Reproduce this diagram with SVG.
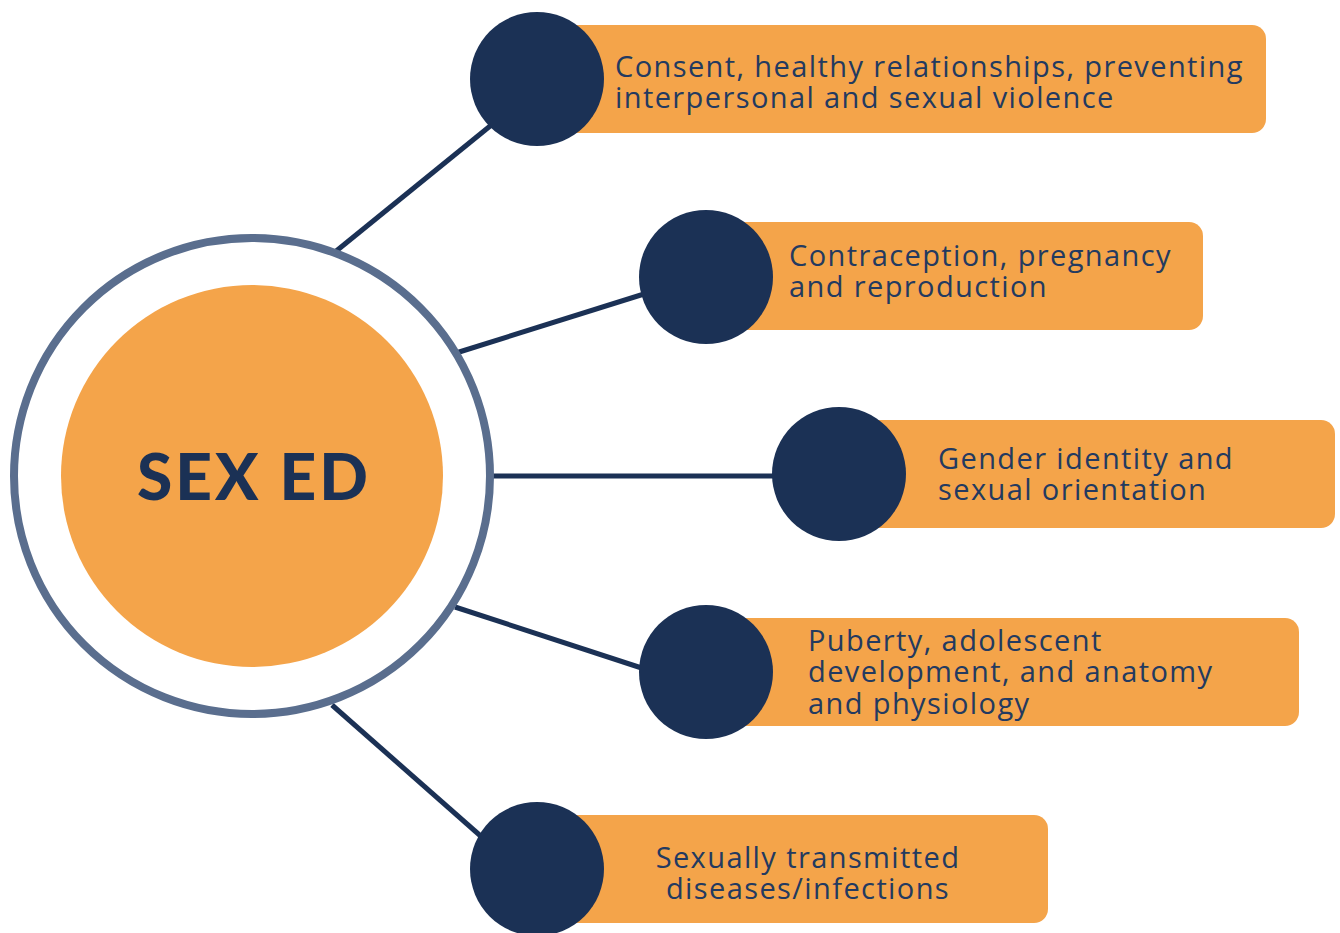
<svg xmlns="http://www.w3.org/2000/svg" width="1340" height="933" viewBox="0 0 1340 933">
<style>
.box{fill:#f4a44a}
.dot{fill:#1b3155}
.lbl{font-family:"Open Sans","Noto Sans","Liberation Sans",sans-serif;font-size:29px;letter-spacing:1.4px;fill:#233a60}
.con{stroke:#1b3155;stroke-width:5;fill:none}
</style>
<rect width="1340" height="933" fill="#ffffff"/>
<g id="connectors">
<line class="con" x1="335" y1="252" x2="500" y2="118"/>
<line class="con" x1="456" y1="353" x2="660" y2="289"/>
<line class="con" x1="488" y1="476" x2="790" y2="476"/>
<line class="con" x1="455" y1="607" x2="660" y2="674"/>
<line class="con" x1="332" y1="705" x2="492" y2="846"/>
</g>
<g id="center">
<circle cx="252" cy="476" r="238" fill="none" stroke="#5a6e8e" stroke-width="8"/>
<circle cx="252" cy="476" r="191" fill="#f4a44a"/>
<text x="254" y="500" text-anchor="middle" font-family="Lato,'Open Sans','Liberation Sans',sans-serif" font-weight="900" font-size="64" letter-spacing="3" fill="#1b3155">SEX ED</text>
</g>
<g id="node1">
<rect class="box" x="540" y="25" width="726" height="108" rx="14"/>
<circle class="dot" cx="537" cy="79" r="67"/>
<text class="lbl"><tspan x="615" y="77">Consent, healthy relationships, preventing</tspan><tspan x="615" y="108">interpersonal and sexual violence</tspan></text>
</g>
<g id="node2">
<rect class="box" x="710" y="222" width="493" height="108" rx="14"/>
<circle class="dot" cx="706" cy="277" r="67"/>
<text class="lbl"><tspan x="789" y="266">Contraception, pregnancy</tspan><tspan x="789" y="297">and reproduction</tspan></text>
</g>
<g id="node3">
<rect class="box" x="840" y="420" width="495" height="108" rx="14"/>
<circle class="dot" cx="839" cy="474" r="67"/>
<text class="lbl"><tspan x="938" y="469">Gender identity and</tspan><tspan x="938" y="500">sexual orientation</tspan></text>
</g>
<g id="node4">
<rect class="box" x="710" y="618" width="589" height="108" rx="14"/>
<circle class="dot" cx="706" cy="672" r="67"/>
<text class="lbl"><tspan x="808" y="651">Puberty, adolescent</tspan><tspan x="808" y="682">development, and anatomy</tspan><tspan x="808" y="714">and physiology</tspan></text>
</g>
<g id="node5">
<rect class="box" x="540" y="815" width="508" height="108" rx="14"/>
<circle class="dot" cx="537" cy="869" r="67"/>
<text class="lbl" text-anchor="middle"><tspan x="808" y="868">Sexually transmitted</tspan><tspan x="808" y="899">diseases/infections</tspan></text>
</g>
</svg>
